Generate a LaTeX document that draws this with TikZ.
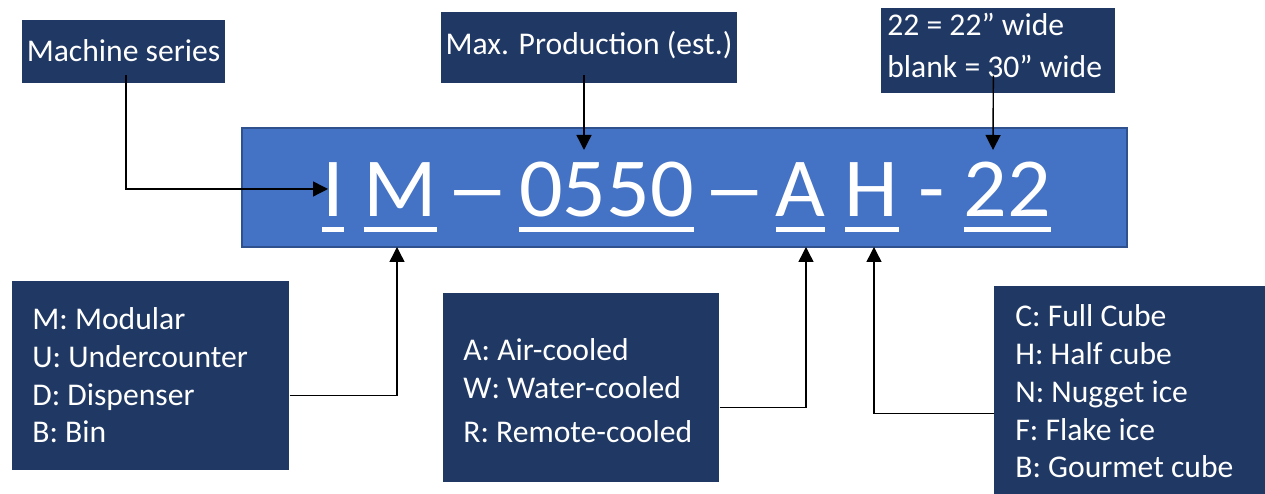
\documentclass[tikz,border=0pt]{standalone}
\usepackage{fontspec}
\setmainfont{Carlito}
\usetikzlibrary{arrows.meta,positioning,calc}

\definecolor{navy}{HTML}{203864}
\definecolor{codeblue}{HTML}{4472C4}
\definecolor{codeedge}{HTML}{2F528F}

% underlined part of the model code
\newcommand\codepart[1]{\setbox0\hbox{#1}\rlap{\rule[-0.3cm]{\wd0}{0.1cm}}\box0\relax}
% wide dash between the parts
\newcommand\codedash{\makebox[0.5em]{\scalebox{1.5}[1]{–}}}

\begin{document}
\begin{tikzpicture}[
  font=\fontsize{18}{21.6}\selectfont,
  tag/.style={fill=navy, text=white, inner sep=0pt},
  keytext/.style={text=white, align=left, inner sep=0pt, anchor=base west},
  arrow/.style={-{Triangle[length=0.3cm, width=0.3cm]}, line width=0.8pt}
]
\useasboundingbox (0,0) rectangle (25.3,9.88);

% ---- Model code ----
\node[fill=codeblue, draw=codeedge, line width=1.1pt, inner sep=0pt,
      minimum width=17.70cm, minimum height=2.38cm] (code) at (13.69,6.13) {};
\node[text=white, inner sep=0pt, anchor=base west,
      font=\fontsize{47.8}{57}\selectfont] (codetext) at (6.44,5.54)
  {\scalebox{1.025}[1]{\codepart{I} \codepart{M} \codedash{} \codepart{0550} \codedash{} \codepart{A} \codepart{H} - \codepart{22}}};

% ---- Top tags ----
\node[tag, minimum width=4.06cm, text height=0.84cm, text depth=0.42cm,
      anchor=base] (series) at (2.47,8.64) {Machine series};
\node[tag, minimum width=5.92cm, text height=0.86cm, text depth=0.56cm,
      anchor=base] (prod) at (11.78,8.78) {Max. Production (est.)};
\node[tag, minimum width=4.68cm, minimum height=1.70cm,
      anchor=north west] (wide) at (17.62,9.72) {};
\node[keytext] (widetext) at (17.74,8.32)
  {22 = 22” wide\\[0.1cm]blank = 30” wide};

% ---- Bottom keys ----
\node[tag, minimum width=5.54cm, minimum height=3.78cm,
      anchor=north west] (type) at (0.24,4.26) {};
\node[keytext] (typetext) at (0.64,1.02)
  {M: Modular\\U: Undercounter\\D: Dispenser\\B: Bin};
\node[tag, minimum width=5.52cm, minimum height=3.78cm,
      anchor=north west] (cool) at (8.86,4.02) {};
\node[keytext] (cooltext) at (9.26,1.02)
  {A: Air-cooled\\W: Water-cooled\\[0.14cm]R: Remote-cooled};
\node[tag, minimum width=5.42cm, minimum height=4.16cm,
      anchor=north west] (ice) at (19.88,4.16) {};
\node[keytext] (icetext) at (20.30,0.32)
  {C: Full Cube\\H: Half cube\\N: Nugget ice\\F: Flake ice\\B: Gourmet cube};

% ---- Arrow tips on the code ----
\coordinate (tipI) at (6.56,6.10);
\coordinate (tip0550) at (11.68,6.88);
\coordinate (tip22) at (19.86,6.88);
\coordinate (tipM) at (7.94,4.94);
\coordinate (tipA) at (16.12,4.94);
\coordinate (tipH) at (17.48,4.94);

% ---- Wiring ----
\draw[arrow] ([xshift=0.05cm, yshift=0.16cm]series.south) |- (tipI);
\draw[arrow] ([xshift=-0.10cm, yshift=0.16cm]prod.south) -- (tip0550);
\draw[arrow] ([xshift=-0.10cm, yshift=0.36cm]wide.south) -- (tip22);
\draw[arrow] ([yshift=-0.39cm]type.east) -| (tipM);
\draw[arrow] ([yshift=-0.39cm]cool.east) -| (tipA);
\draw[arrow] ([yshift=-0.46cm]ice.west) -| (tipH);
\end{tikzpicture}
\end{document}
